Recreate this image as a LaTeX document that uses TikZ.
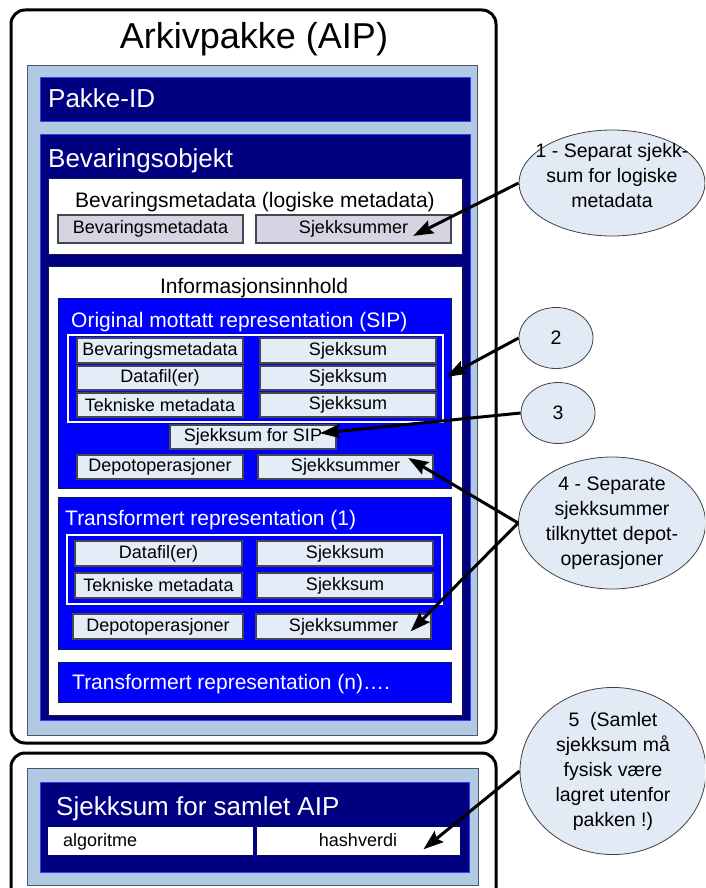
\documentclass[tikz,border=0pt]{standalone}
\usepackage{fontspec}
\setmainfont{Liberation Sans}
\usetikzlibrary{arrows.meta,shapes.geometric}

\definecolor{navy}{RGB}{0,0,128}
\definecolor{navyedge}{RGB}{60,60,255}
\definecolor{royal}{RGB}{0,0,255}
\definecolor{royaledge}{RGB}{20,20,90}
\definecolor{panel}{RGB}{176,202,228}
\definecolor{paneledge}{RGB}{80,84,100}
\definecolor{cell}{RGB}{228,236,247}
\definecolor{greycell}{RGB}{212,212,226}
\definecolor{celledge}{RGB}{70,70,80}
\definecolor{bubble}{RGB}{226,234,245}

\newcommand{\fs}[1]{\fontsize{#1}{#1}\selectfont}

% \rectnode{style}{name}{x1}{y1}{x2}{y2}{text}: a named box spanning two corners
\newcommand{\rectnode}[7]{%
  \pgfmathsetmacro{\rcx}{(#3+#5)/2}%
  \pgfmathsetmacro{\rcy}{(#4+#6)/2}%
  \pgfmathsetmacro{\rcw}{#5-#3}%
  \pgfmathsetmacro{\rch}{#6-#4}%
  \node[#1, minimum width=\rcw pt, minimum height=\rch pt] (#2) at (\rcx,\rcy) {#7};%
}

\tikzset{
  frame/.style={draw=black, line width=3pt, rounded corners=14pt},
  area/.style={inner sep=0pt, outer sep=0pt, rectangle},
  panelbox/.style={area, fill=panel, draw=paneledge, line width=0.8pt},
  navybox/.style={area, fill=navy, draw=navyedge, line width=1pt},
  royalbox/.style={area, fill=royal, draw=royaledge, line width=1pt},
  whitebox/.style={area, fill=white, draw=royaledge, line width=0.8pt},
  groupbox/.style={area, draw=white, line width=2.2pt},
  cellbox/.style={area, fill=cell, draw=celledge, line width=1.3pt, font=\fs{18}},
  greybox/.style={area, fill=greycell, draw=celledge, line width=1.3pt, font=\fs{18}},
  plainbox/.style={area, fill=white, draw=navy, line width=0.8pt, font=\fs{18}},
  heading/.style={anchor=base west, inner sep=0pt, text=white},
  subheading/.style={anchor=base, inner sep=0pt, text=black, font=\fs{21}},
  bubblenode/.style={ellipse, fill=bubble, draw=black!75, line width=0.8pt,
    inner sep=0pt, align=center, font=\fontsize{19.5}{25}\selectfont},
  callout/.style={draw=black, line width=3pt,
    -{Stealth[length=20pt,width=14pt,inset=3pt]}, shorten >=-2pt}
}

\begin{document}
\begin{tikzpicture}[x=1pt,y=-1pt]
\useasboundingbox (0,0) rectangle (705,888);
\clip (0,0) rectangle (705,888);

% ---------- archive package ----------
\draw[frame] (11,10) rectangle (496,743);
\node[anchor=base, inner sep=0pt, font=\fs{36}] (aiptitle) at (254,49) {Arkivpakke (AIP)};
\rectnode{panelbox}{aippanel}{27}{65}{477}{735}{}

\rectnode{navybox}{pakkeid}{40}{78}{470}{122}{}
\node[heading, font=\fs{26}] (pakkeidtxt) at (48,108) {Pakke-ID};

\rectnode{navybox}{bevobj}{40}{134}{470}{720}{}
\node[heading, font=\fs{26}] (bevobjtxt) at (48,167) {Bevaringsobjekt};

% logical preservation metadata
\rectnode{whitebox}{logisk}{48}{178}{462}{254}{}
\node[subheading] (logisktxt) at (255,207) {Bevaringsmetadata (logiske metadata)};
\rectnode{greybox}{lbev}{58}{215}{243}{243}{Bevaringsmetadata}
\rectnode{greybox}{lsjekk}{256}{215}{451}{243}{Sjekksummer}

% information content
\rectnode{whitebox}{info}{48}{266}{462}{715}{}
\node[subheading] (infotxt) at (254,293) {Informasjonsinnhold};

% original representation (SIP)
\rectnode{royalbox}{sip}{58}{298}{451}{488}{}
\node[heading, font=\fs{21}] (siptxt) at (71,327) {Original mottatt representation (SIP)};
\rectnode{groupbox}{sipgroup}{68}{335}{443}{422}{}
\rectnode{cellbox}{sipa1}{77}{338}{243}{363}{Bevaringsmetadata}
\rectnode{cellbox}{sipb1}{260}{338}{436}{363}{Sjekksum}
\rectnode{cellbox}{sipa2}{77}{366}{243}{390}{Datafil(er)}
\rectnode{cellbox}{sipb2}{260}{366}{436}{390}{Sjekksum}
\rectnode{cellbox}{sipa3}{77}{393}{243}{417}{Tekniske metadata}
\rectnode{cellbox}{sipb3}{260}{393}{436}{417}{Sjekksum}
\rectnode{cellbox}{sipsum}{170}{425}{336}{449}{Sjekksum for SIP}
\rectnode{cellbox}{sipdepot}{77}{455}{243}{479}{Depotoperasjoner}
\rectnode{cellbox}{sipdsum}{258}{455}{433}{479}{Sjekksummer}

% transformed representation (1)
\rectnode{royalbox}{tr1}{58}{497}{451}{649}{}
\node[heading, font=\fs{21}] (tr1txt) at (65,525) {Transformert representation (1)};
\rectnode{groupbox}{tr1group}{67}{535}{442}{604}{}
\rectnode{cellbox}{tra1}{75}{541}{242}{566}{Datafil(er)}
\rectnode{cellbox}{trb1}{257}{541}{433}{566}{Sjekksum}
\rectnode{cellbox}{tra2}{75}{573}{242}{598}{Tekniske metadata}
\rectnode{cellbox}{trb2}{257}{573}{433}{598}{Sjekksum}
\rectnode{cellbox}{trdepot}{73}{614}{243}{639}{Depotoperasjoner}
\rectnode{cellbox}{trdsum}{256}{614}{431}{639}{Sjekksummer}

% transformed representation (n)
\rectnode{royalbox}{trn}{58}{662}{451}{702}{}
\node[heading, font=\fs{21}] (trntxt) at (72,689) {Transformert representation (n)\ldots.};

% ---------- checksum for the whole package ----------
\draw[frame] (11,753) rectangle (496,910);
\rectnode{panelbox}{sumpanel}{27}{768}{478}{885}{}
\rectnode{navybox}{samlet}{40}{782}{469}{872}{}
\node[heading, font=\fs{26}] (samlettxt) at (56,815) {Sjekksum for samlet AIP};
\rectnode{plainbox}{algo}{47}{826}{253}{855}{}
\node[anchor=base west, inner sep=0pt, font=\fs{18}] (algotxt) at (63,846) {algoritme};
\rectnode{plainbox}{hash}{256}{826}{460}{855}{hashverdi}

% ---------- callouts ----------
\node[bubblenode, minimum width=186pt, minimum height=106pt] (c1) at (612,183) {};
\node[inner sep=0pt, align=center, font=\fontsize{19.5}{25}\selectfont] (c1txt) at (612,176)
  {1 - Separat sjekk-\\sum for logiske\\metadata};
\node[bubblenode, minimum width=74pt, minimum height=61pt] (c2) at (556,338) {2};
\node[bubblenode, minimum width=74pt, minimum height=61pt] (c3) at (558,413) {3};
\node[bubblenode, minimum width=186pt, minimum height=132pt] (c4) at (612,523)
  {4 - Separate\\sjekksummer\\tilknyttet depot-\\operasjoner};
\node[bubblenode, minimum width=186pt, minimum height=146pt] (c5) at (613,771)
  {5\ \ (Samlet\\sjekksum må\\fysisk være\\lagret utenfor\\pakken !)};

\coordinate (t1) at (415,235);
\coordinate (t2) at (448,376);
\coordinate (t3) at (322,433);
\coordinate (t4a) at (410,459);
\coordinate (t4b) at (412,630);
\coordinate (t5) at (425,848);

\draw[callout] (c1.west) -- (t1);
\draw[callout] (c2.west) -- (t2);
\draw[callout] (c3.west) -- (t3);
\draw[callout] (c4.west) -- (t4a);
\draw[callout] (c4.west) -- (t4b);
\draw[callout] (c5.west) -- (t5);
\end{tikzpicture}
\end{document}
